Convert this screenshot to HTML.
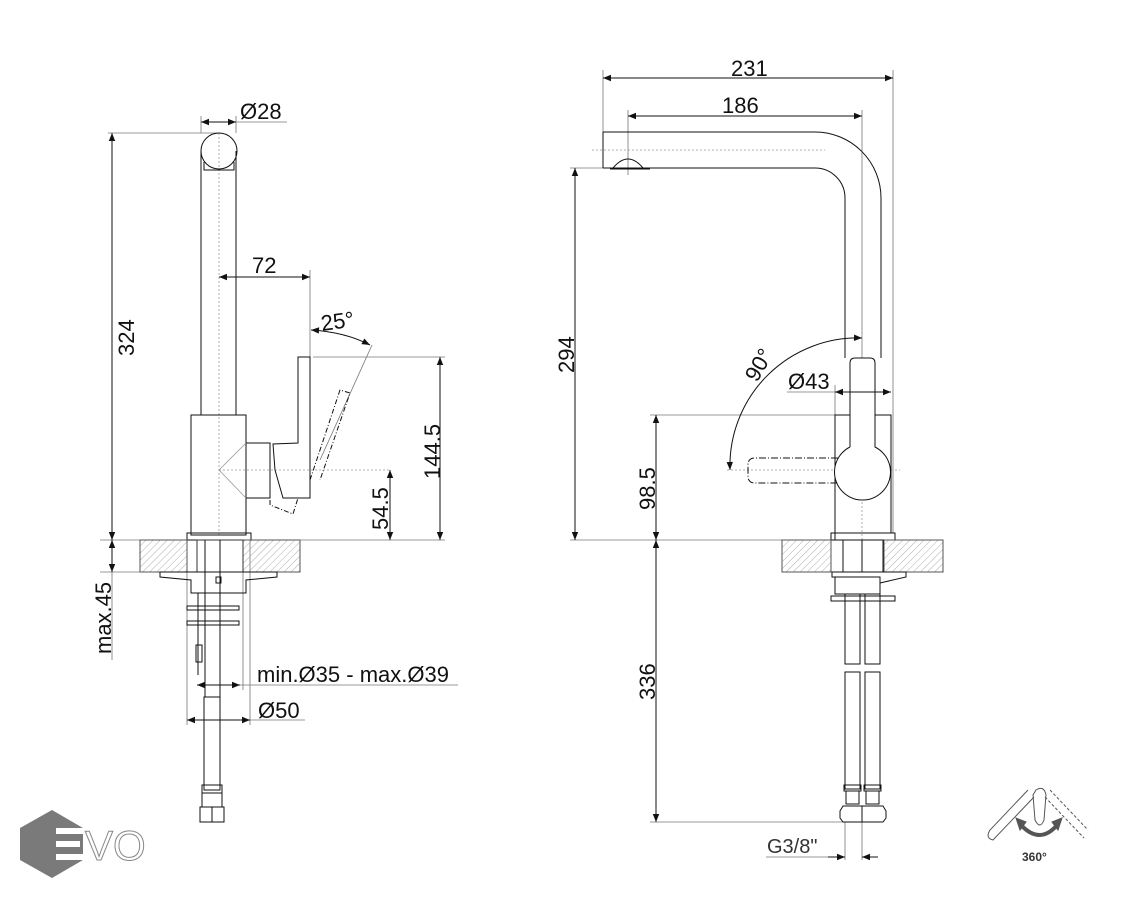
<!DOCTYPE html>
<html><head><meta charset="utf-8"><style>
html,body{margin:0;padding:0;background:#fff;}
svg{display:block;font-family:"Liberation Sans",Arial,sans-serif;}
</style></head><body>
<svg width="1126" height="900" viewBox="0 0 1126 900" xmlns="http://www.w3.org/2000/svg">
<defs>
<pattern id="h" width="5" height="5" patternUnits="userSpaceOnUse" patternTransform="rotate(45)">
<line x1="0" y1="0" x2="0" y2="5" stroke="#999" stroke-width="0.8"/></pattern>
<marker id="a" viewBox="0 0 10 10" refX="10" refY="5" markerWidth="10" markerHeight="8" orient="auto-start-reverse" markerUnits="userSpaceOnUse"><path d="M0,1 L10,5 L0,9 z" fill="#111"/></marker>
</defs>
<g fill="none" stroke="#111" stroke-width="1">
<g stroke="#777" stroke-width="0.8">
<line x1="108" y1="133" x2="219" y2="133"/>
<line x1="201" y1="116" x2="201" y2="133"/><line x1="236" y1="116" x2="236" y2="133"/>
<line x1="236" y1="122" x2="287" y2="122"/>
<line x1="310" y1="270" x2="310" y2="357"/>
<line x1="313" y1="357" x2="445" y2="357"/>
<line x1="100" y1="540" x2="445" y2="540"/>
<line x1="100" y1="572" x2="140" y2="572"/>
<line x1="112" y1="572" x2="112" y2="660"/>
<line x1="240" y1="685" x2="458" y2="685"/>
<line x1="250" y1="720" x2="305" y2="720"/>
<line x1="187" y1="540" x2="187" y2="725"/><line x1="250" y1="540" x2="250" y2="725"/>
<line x1="243" y1="572" x2="243" y2="690"/>
<line x1="372" y1="345" x2="320" y2="460"/>
</g>
<g stroke="#999" stroke-width="0.8" stroke-dasharray="2,2">
<line x1="219" y1="133" x2="219" y2="535"/>
<line x1="219" y1="470" x2="390" y2="470"/>
</g>
<circle cx="219" cy="151" r="18"/>
<line x1="201" y1="151" x2="201" y2="415"/><line x1="236" y1="151" x2="236" y2="415"/>
<path d="M204,162 L204,170 L234,170 L234,162"/>
<rect x="191" y="415" width="55" height="120"/>
<rect x="187" y="533" width="64" height="7"/>
<path d="M246,443 L270,443 L270,498 L246,498"/>
<path d="M246,443 L219,470 L246,498" stroke="#999" stroke-width="0.8"/>
<path d="M298,357 L310,357 L310,498 L283,498 L275,470 L273,444 L298,443 Z"/>
<path d="M270,500 L270,505 L293,514 L298,498" stroke-dasharray="5,2,1,2"/>
<path d="M310,480 L340,390 L350,393 L320,480" stroke-dasharray="5,2,1,2"/>
<rect x="140" y="540" width="47" height="32" fill="url(#h)" stroke="#555"/>
<rect x="243" y="540" width="57" height="32" fill="url(#h)" stroke="#555"/>
<rect x="197" y="540" width="46" height="32" stroke="#333"/>
<path d="M160,572 L277,572 L277,577 L246,580 L246,593 L191,593 L191,580 L160,577 Z"/>
<rect x="216" y="577" width="5" height="6"/>
<line x1="205" y1="540" x2="205" y2="697"/><line x1="220" y1="540" x2="220" y2="697"/>
<rect x="187" y="606" width="52" height="4"/><rect x="187" y="621" width="52" height="4"/>
<rect x="196" y="645" width="6" height="17"/>
<line x1="198" y1="593" x2="198" y2="675"/>
<rect x="204" y="697" width="16" height="93"/>
<rect x="202" y="785" width="20" height="8"/>
<rect x="202" y="793" width="20" height="14"/>
<rect x="200" y="807" width="24" height="15"/><line x1="212" y1="807" x2="212" y2="822"/>
<line x1="112" y1="133" x2="112" y2="540" marker-start="url(#a)" marker-end="url(#a)"/>
<line x1="112" y1="540" x2="112" y2="572" marker-start="url(#a)" marker-end="url(#a)"/>
<line x1="201" y1="122" x2="236" y2="122" marker-start="url(#a)" marker-end="url(#a)"/>
<line x1="219" y1="277" x2="310" y2="277" marker-start="url(#a)" marker-end="url(#a)"/>
<path d="M311,330 Q345,332 370,345" marker-start="url(#a)" marker-end="url(#a)"/>
<line x1="440" y1="357" x2="440" y2="540" marker-start="url(#a)" marker-end="url(#a)"/>
<line x1="390" y1="470" x2="390" y2="540" marker-start="url(#a)" marker-end="url(#a)"/>
<line x1="197" y1="685" x2="240" y2="685" marker-start="url(#a)" marker-end="url(#a)"/>
<line x1="187" y1="720" x2="250" y2="720" marker-start="url(#a)" marker-end="url(#a)"/>

<g stroke="#777" stroke-width="0.8">
<line x1="603" y1="70" x2="603" y2="132"/><line x1="893" y1="70" x2="893" y2="533"/>
<line x1="628" y1="110" x2="628" y2="175"/><line x1="862" y1="110" x2="862" y2="358"/>
<line x1="570" y1="168" x2="650" y2="168"/>
<line x1="570" y1="540" x2="782" y2="540"/>
<line x1="650" y1="415" x2="835" y2="415"/>
<line x1="835" y1="385" x2="835" y2="415"/>
<line x1="787" y1="392" x2="835" y2="392"/>
<line x1="650" y1="822" x2="845" y2="822"/>
<line x1="845" y1="822" x2="845" y2="860"/><line x1="862" y1="822" x2="862" y2="860"/>
<line x1="766" y1="857" x2="845" y2="857"/>
</g>
<g stroke="#999" stroke-width="0.8" stroke-dasharray="2,2">
<line x1="592" y1="150" x2="825" y2="150"/>
<line x1="862" y1="130" x2="862" y2="540"/>
<line x1="727" y1="470" x2="900" y2="470"/>
</g>
<path d="M603,132 L815,132 A66,66 0 0 1 881,198 L881,358"/>
<path d="M603,168 L815,168 A30,30 0 0 1 845,198 L845,358"/>
<line x1="603" y1="132" x2="603" y2="168"/>
<path d="M613,168 Q628,150 643,168"/>
<line x1="610" y1="169" x2="650" y2="169"/>
<path d="M835,540 L835,415 L850,415"/><path d="M875,415 L891,415 L891,533"/>
<path d="M850,447 L850,363 Q850,358 855,358 L870,358 Q875,358 875,363 L875,447 A28,28 0 1 1 850,447" fill="#fff"/>
<path d="M838,458 L755,458 Q748,458 748,465 L748,476 Q748,483 755,483 L838,483" stroke-dasharray="7,2,1,2"/>
<rect x="831" y="533" width="64" height="7"/>
<rect x="782" y="540" width="49" height="32" fill="url(#h)" stroke="#555"/>
<rect x="884" y="540" width="59" height="32" fill="url(#h)" stroke="#555"/>
<rect x="843" y="540" width="40" height="32"/>
<line x1="862" y1="540" x2="862" y2="572"/>
<path d="M832,572 L906,572 L906,577 L880,583 L880,577 L832,577 Z"/>
<rect x="835" y="577" width="45" height="17"/>
<rect x="831" y="596" width="64" height="5"/>
<rect x="845" y="594" width="15" height="70"/><rect x="865" y="594" width="15" height="70"/>
<rect x="845" y="672" width="15" height="117"/><rect x="865" y="672" width="15" height="117"/>
<rect x="844" y="785" width="17" height="6"/><rect x="864" y="785" width="17" height="6"/>
<rect x="846" y="791" width="13" height="13"/><rect x="866" y="791" width="13" height="13"/>
<path d="M843,806 L883,806 L886,811 L886,818 L883,822 L843,822 L840,818 L840,811 Z"/>
<line x1="862" y1="806" x2="862" y2="822"/>
<line x1="603" y1="78" x2="893" y2="78" marker-start="url(#a)" marker-end="url(#a)"/>
<line x1="628" y1="116" x2="862" y2="116" marker-start="url(#a)" marker-end="url(#a)"/>
<line x1="575" y1="168" x2="575" y2="540" marker-start="url(#a)" marker-end="url(#a)"/>
<line x1="656" y1="415" x2="656" y2="540" marker-start="url(#a)" marker-end="url(#a)"/>
<line x1="656" y1="540" x2="656" y2="822" marker-start="url(#a)" marker-end="url(#a)"/>
<line x1="835" y1="392" x2="891" y2="392" marker-start="url(#a)" marker-end="url(#a)"/>
<path d="M862,338 A128,128 0 0 0 730,470" marker-start="url(#a)" marker-end="url(#a)"/>
<line x1="828" y1="857" x2="845" y2="857" marker-end="url(#a)"/>
<line x1="878" y1="857" x2="862" y2="857" marker-end="url(#a)"/>
<g stroke="#555">
<path d="M1028,790 L990,830 Q985,838 993,840 L1034,797"/>
<path d="M1036,790 Q1044,785 1046,795 L1044,820 Q1040,830 1035,820 L1033,795 Z"/>
<path d="M1050,790 L1088,830 M1045,797 L1084,838" stroke-dasharray="3,2"/>
<path d="M1020,824 Q1040,846 1058,824" stroke-width="4"/>
<path d="M1016,818 L1020,830 L1026,822 Z M1062,818 L1058,830 L1052,822 Z" fill="#555"/>
</g>
</g>
<g fill="#111" font-size="22">
<text x="240" y="119">Ø28</text>
<text x="252" y="273">72</text>
<text x="322" y="331" transform="rotate(-8 322 331)">25°</text>
<text transform="translate(134,356) rotate(-90)">324</text>
<text transform="translate(440,479) rotate(-90)">144.5</text>
<text transform="translate(388,530) rotate(-90)">54.5</text>
<text transform="translate(111,654) rotate(-90)">max.45</text>
<text x="257" y="682">min.Ø35 - max.Ø39</text>
<text x="258" y="718">Ø50</text>
<text x="731" y="76">231</text>
<text x="722" y="113">186</text>
<text transform="translate(574,373) rotate(-90)">294</text>
<text transform="translate(655,510) rotate(-90)">98.5</text>
<text transform="translate(655,700) rotate(-90)">336</text>
<text x="788" y="389">Ø43</text>
<text transform="translate(757,383) rotate(-60)">90°</text>
<text x="767" y="853" fill="#333" font-size="20">G3/8"</text>
<text x="1022" y="861" font-size="12" fill="#333" font-weight="bold">360°</text>
</g>
<polygon points="52,810 83,828 83,860 52,878 20,860 20,828" fill="#7a7a7a"/>
<g fill="#fff"><rect x="56" y="828" width="28" height="6"/><rect x="56" y="841" width="24" height="6"/><rect x="56" y="854" width="28" height="6"/></g>
<text x="85" y="860" font-size="42" fill="#fff" stroke="#888" stroke-width="1">VO</text>
</svg>
</body></html>
